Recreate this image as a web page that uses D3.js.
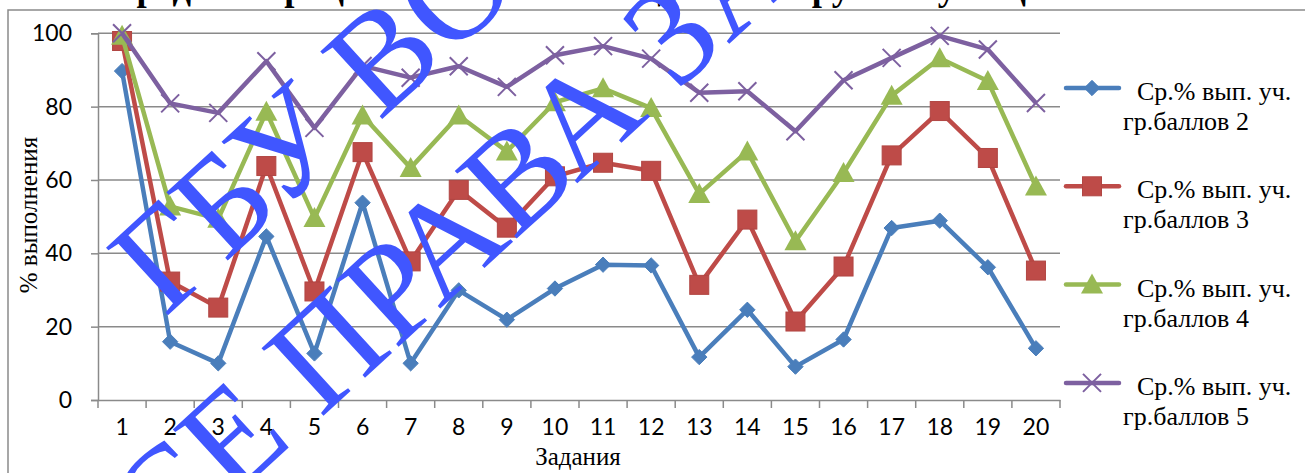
<!DOCTYPE html>
<html><head><meta charset="utf-8">
<script src="https://cdn.jsdelivr.net/npm/d3@7"></script>
<style>html,body{margin:0;padding:0;background:#fff;overflow:hidden}</style>
</head><body><svg id="c" width="1305" height="473"></svg>
<script>
const tasks = ["1","2","3","4","5","6","7","8","9","10","11","12","13","14","15","16","17","18","19","20"];
const group2 = [89.7,15.9,10.0,44.6,12.7,53.8,10.0,29.9,21.9,30.4,36.9,36.7,11.7,24.6,9.1,16.5,46.9,48.9,36.2,14.1];
const group3 = [97.9,32.3,25.2,63.8,29.6,67.6,37.8,57.3,47.0,61.0,64.7,62.5,31.4,49.2,21.4,36.4,66.7,78.8,66.0,35.3];
const group4 = [99.3,52.8,49.4,78.6,49.6,77.6,63.3,77.6,67.8,81.2,85.0,79.6,56.2,67.8,43.3,61.9,83.0,93.2,87.0,58.2];
const group5 = [100,80.9,78.3,92.4,74.2,91.1,87.9,91.0,85.4,94.0,96.5,93.1,83.8,84.2,73.3,87.2,93.3,99.3,95.6,81.0];
const yTicks = [0,20,40,60,80,100];
const seriesNames = ["Ср.% вып. уч. гр.баллов 2","Ср.% вып. уч. гр.баллов 3","Ср.% вып. уч. гр.баллов 4","Ср.% вып. уч. гр.баллов 5"];
const seriesLine1 = ["Ср.% вып. уч.","Ср.% вып. уч.","Ср.% вып. уч.","Ср.% вып. уч."];
const seriesLine2 = ["гр.баллов 2","гр.баллов 3","гр.баллов 4","гр.баллов 5"];
const titleText = "Средний процент выполнения заданий в группах учащихся";
const xTitle = "Задания";
const yTitle = "% выполнения";
const watermark1 = "ГБУ ВО";
const watermark2 = "ВСЕ ПРАВА ЗАЩИЩЕНЫ";

const series = [
  {name: seriesNames[0], values: group2, color: "#4A7EBB", marker: "diamond"},
  {name: seriesNames[1], values: group3, color: "#BE4B48", marker: "square"},
  {name: seriesNames[2], values: group4, color: "#98B954", marker: "triangle"},
  {name: seriesNames[3], values: group5, color: "#7D60A0", marker: "x"}
];

const svg = d3.select("#c");
const gridColor = "#8a8a8a";
const plot = {left: 98, right: 1060, top: 33.3, bottom: 400};

// title (mostly cropped above the frame)
svg.append("text").attr("x", 110).attr("y", 0)
  .attr("font-family", "Liberation Serif").attr("font-weight", "bold").attr("font-size", 36)
  .attr("textLength", 990).attr("lengthAdjust", "spacingAndGlyphs")
  .text(titleText);

// outer frame
svg.append("rect").attr("x", 8).attr("y", 10).attr("width", 1310).attr("height", 480)
  .attr("fill", "none").attr("stroke", gridColor).attr("stroke-width", 1.5);

const x = d3.scaleBand().domain(tasks).range([plot.left, plot.right]);
const y = d3.scaleLinear().domain([0, 100]).range([plot.bottom, plot.top]);
const cx = d => x(d) + x.bandwidth() / 2;

// gridlines
svg.append("g").selectAll("line").data(yTicks.filter(t => t > 0)).join("line")
  .attr("x1", plot.left).attr("x2", plot.right)
  .attr("y1", d => y(d)).attr("y2", d => y(d))
  .attr("stroke", gridColor).attr("stroke-width", 1.5);

// y axis
const yAxis = svg.append("g").attr("transform", `translate(${plot.left},0)`)
  .call(d3.axisLeft(y).tickValues(yTicks).tickSize(7).tickPadding(19));
yAxis.select(".domain").attr("stroke", gridColor).attr("stroke-width", 1.5);
yAxis.selectAll(".tick line").attr("stroke", gridColor).attr("stroke-width", 1.5);
yAxis.selectAll("text").attr("font-family", "Lato").attr("font-size", 23).attr("fill", "#000");

// x axis
const xAxis = svg.append("g").attr("transform", `translate(0,${plot.bottom})`)
  .call(d3.axisBottom(x).tickSize(0).tickPadding(19));
xAxis.select(".domain").attr("stroke", gridColor).attr("stroke-width", 1.5);
xAxis.selectAll("text").attr("font-family", "Lato").attr("font-size", 23).attr("fill", "#000");
const bounds = tasks.map(t => x(t)).concat([plot.right]);
svg.append("g").selectAll("line").data(bounds).join("line")
  .attr("x1", d => d).attr("x2", d => d).attr("y1", plot.bottom).attr("y2", plot.bottom + 8)
  .attr("stroke", gridColor).attr("stroke-width", 1.5);

// axis titles
svg.append("text").attr("transform", `translate(37,215) rotate(-90)`).attr("text-anchor", "middle")
  .attr("font-family", "Liberation Serif").attr("font-size", 25).text(yTitle);
svg.append("text").attr("x", 578).attr("y", 465).attr("text-anchor", "middle")
  .attr("font-family", "Liberation Serif").attr("font-size", 25).text(xTitle);

function drawMarker(g, type, color, px, py) {
  if (type === "diamond") {
    g.append("path").attr("d", d3.symbol(d3.symbolDiamond2, 150)()).attr("transform", `translate(${px},${py})`)
      .attr("fill", color).attr("stroke", color).attr("stroke-width", 1);
  } else if (type === "square") {
    g.append("rect").attr("x", px - 9.5).attr("y", py - 9.5).attr("width", 19).attr("height", 19)
      .attr("fill", color).attr("stroke", d3.color(color).darker(0.2)).attr("stroke-width", 1);
  } else if (type === "triangle") {
    g.append("path").attr("d", `M${px},${py - 11}L${px + 11},${py + 9}L${px - 11},${py + 9}Z`)
      .attr("fill", color);
  } else {
    g.append("path").attr("d", `M${px - 9},${py - 9}L${px + 9},${py + 9}M${px - 9},${py + 9}L${px + 9},${py - 9}`)
      .attr("stroke", color).attr("stroke-width", 2);
  }
}

const lineGen = d3.line().x((d, i) => cx(tasks[i])).y(d => y(d));
series.forEach(s => {
  const g = svg.append("g");
  g.append("path").datum(s.values).attr("d", lineGen).attr("fill", "none")
    .attr("stroke", s.color).attr("stroke-width", 4.5).attr("stroke-linejoin", "round");
  s.values.forEach((v, i) => drawMarker(g, s.marker, s.color, cx(tasks[i]), y(v)));
});

// legend
series.forEach((s, i) => {
  const ly = 88 + i * 98.3;
  const g = svg.append("g");
  g.append("line").attr("x1", 1066).attr("x2", 1119).attr("y1", ly).attr("y2", ly)
    .attr("stroke", s.color).attr("stroke-width", 4.5).attr("stroke-linecap", "round");
  drawMarker(g, s.marker, s.color, 1092, ly);
  g.append("text").attr("x", 1137).attr("y", ly + 12).attr("font-family", "Liberation Serif").attr("font-size", 26).text(seriesLine1[i]);
  g.append("text").attr("x", 1123).attr("y", ly + 42).attr("font-family", "Liberation Serif").attr("font-size", 26).text(seriesLine2[i]);
});

// watermark overlay
const wm = svg.append("g").attr("fill", "#4056FF").attr("font-family", "Liberation Serif").attr("font-size", 140);
wm.append("text").attr("transform", "translate(165,318) rotate(-42.5)").text(watermark1);
wm.append("text").attr("transform", "translate(94,626) rotate(-42.5)").text(watermark2);
</script></body></html>
